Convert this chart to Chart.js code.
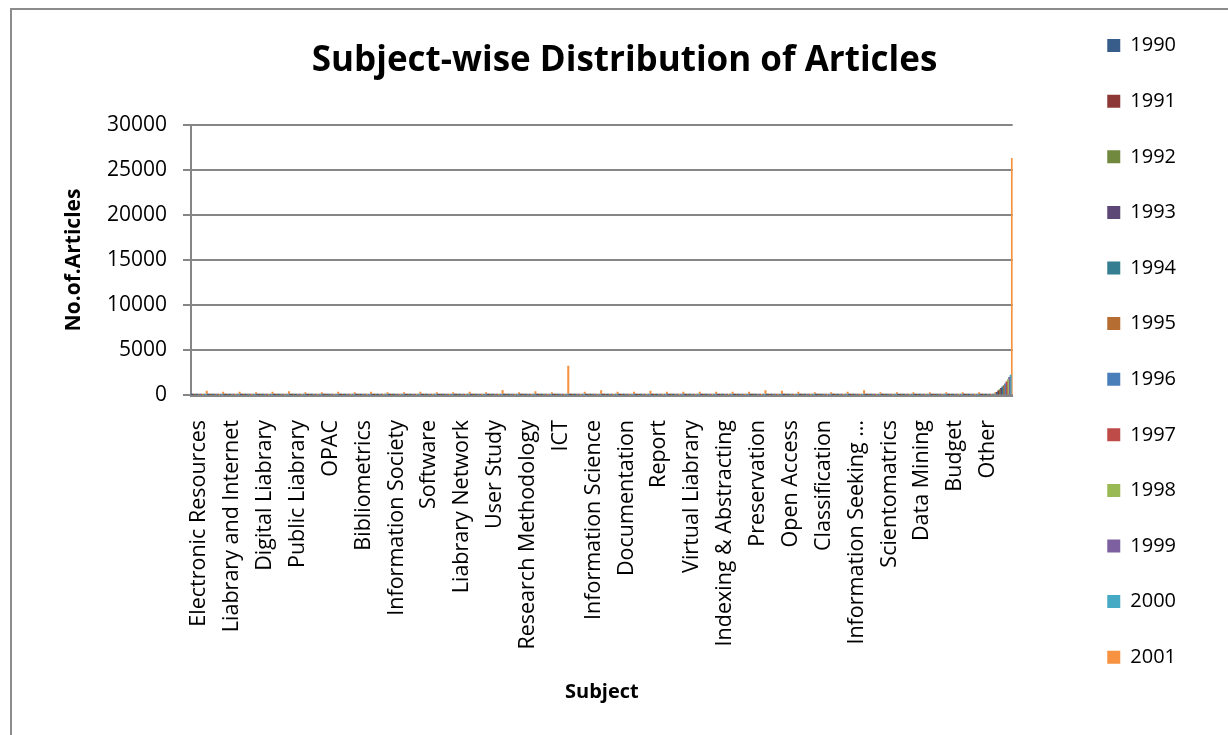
<!DOCTYPE html>
<html>
<head>
<meta charset="utf-8">
<script src="https://cdn.jsdelivr.net/npm/chart.js@4/dist/chart.umd.min.js"></script>
<style>
  html, body { margin: 0; padding: 0; background: #ffffff; }
  #wrap { position: relative; width: 1228px; height: 735px; overflow: hidden; }
  #frame { position: absolute; left: 10px; top: 8px; width: 1300px; height: 800px;
           border-left: 2px solid #8c8c8c; border-top: 2px solid #8c8c8c; pointer-events: none; }
  canvas { position: absolute; left: 0; top: 0; }
</style>
</head>
<body>
<div id="wrap">
  <canvas id="c" width="1228" height="735"></canvas>
  <div id="frame"></div>
</div>
<script>
// ---- data ----
const categories = [
  'Electronic Resources', '', 'Liabrary and Internet', '', 'Digital Liabrary', '',
  'Public Liabrary', '', 'OPAC', '', 'Bibliometrics', '', 'Information Society', '',
  'Software', '', 'Liabrary Network', '', 'User Study', '', 'Research Methodology', '',
  'ICT', '', 'Information Science', '', 'Documentation', '', 'Report', '',
  'Virtual Liabrary', '', 'Indexing & Abstracting', '', 'Preservation', '',
  'Open Access', '', 'Classification', '', 'Information Seeking …', '',
  'Scientomatrics', '', 'Data Mining', '', 'Budget', '', 'Other', ''
];
const years = ['1990','1991','1992','1993','1994','1995','1996','1997','1998','1999','2000','2001'];

const s1990 = [5,3,4,2,3,4,2,1,3,2,4,2,3,5,1,2,3,2,4,1,2,3,15,2,3,1,2,3,2,1,2,3,1,2,3,2,1,2,1,2,3,1,2,1,1,2,1,1,20,300];
const s1991 = [6,4,3,3,4,5,2,2,3,3,5,2,4,5,2,2,4,3,5,2,3,3,18,3,4,2,3,3,2,2,3,3,2,2,4,3,2,2,2,3,3,2,2,1,2,2,1,2,25,450];
const s1992 = [8,5,5,3,5,6,3,2,4,3,6,3,4,6,2,3,4,3,6,2,3,4,22,3,5,2,3,4,3,2,3,4,2,3,4,3,2,3,2,3,4,2,3,2,2,2,2,2,30,600];
const s1993 = [9,6,6,4,6,7,3,3,5,4,7,3,5,7,3,3,5,4,7,3,4,4,26,4,5,3,4,4,3,3,4,4,3,3,5,4,3,3,3,3,4,3,3,2,2,3,2,2,35,750];
const s1994 = [11,7,7,5,7,8,4,3,6,4,8,4,6,8,3,4,6,4,8,3,4,5,30,4,6,3,4,5,4,3,4,5,3,4,5,4,3,4,3,4,5,3,3,2,3,3,2,3,40,900];
const s1995 = [13,8,8,5,8,9,5,4,7,5,9,4,7,9,4,5,7,5,9,4,5,6,35,5,7,4,5,6,4,4,5,6,4,4,6,5,4,4,3,4,6,3,4,3,3,3,3,3,50,1050];
const s1996 = [15,10,9,6,9,11,5,5,8,6,10,5,8,11,4,5,8,6,11,4,6,7,40,6,8,4,6,7,5,4,6,7,4,5,7,6,4,5,4,5,7,4,4,3,3,4,3,3,60,1250];
const s1997 = [18,12,11,7,11,13,6,6,9,7,12,6,9,13,5,6,9,7,13,5,7,8,48,7,9,5,7,8,6,5,7,8,5,6,8,7,5,6,5,6,8,4,5,4,4,4,3,4,70,1450];
const s1998 = [22,14,13,9,13,15,8,7,11,8,15,7,11,15,6,7,11,8,15,6,8,9,55,8,11,6,8,9,7,6,8,9,6,7,9,8,6,7,5,7,9,5,6,4,5,5,4,4,85,1700];
const s1999 = [26,17,16,10,16,18,9,8,13,10,18,8,13,18,7,9,13,10,18,7,10,11,65,10,13,7,10,11,8,7,10,11,7,8,11,10,7,8,6,8,11,6,7,5,5,6,5,5,100,1950];
const s2000 = [30,20,19,12,19,22,11,10,15,12,21,10,15,21,8,10,15,12,21,8,12,13,75,12,15,8,12,13,10,8,12,13,8,10,13,12,8,10,7,10,13,7,8,6,6,7,5,6,120,2200];
const s2001 = [440,330,330,260,330,370,260,260,330,260,330,260,260,330,260,260,330,260,520,260,370,260,3200,
               330,480,330,330,440,330,330,330,330,330,330,480,440,330,280,280,330,480,280,280,280,280,280,280,280,300,26300];

const yTicks = { min: 0, max: 30000, step: 5000 };

const seriesValues = [s1990, s1991, s1992, s1993, s1994, s1995, s1996, s1997, s1998, s1999, s2000, s2001];
const seriesColors = ['#385D8A','#8C3836','#71893F','#5C4776','#357D91','#B66D31',
                      '#4A7EBB','#BE4B48','#98B954','#7D60A0','#46AAC5','#F69240'];

const FONT = '"Open Sans", Lato, sans-serif';
const GRID = '#868686';

const datasets = years.map((y, i) => ({
  label: y,
  data: seriesValues[i],
  backgroundColor: seriesColors[i],
  borderWidth: 0,
  categoryPercentage: 1.0,
  barPercentage: 1.0,
  yAxisID: 'y'
}));

new Chart(document.getElementById('c'), {
  type: 'bar',
  data: { labels: categories, datasets },
  options: {
    responsive: false,
    devicePixelRatio: 1,
    animation: false,
    layout: { padding: { left: 0, right: 42, top: 0, bottom: 0 } },
    plugins: {
      tooltip: { enabled: false },
      title: {
        display: true,
        fullSize: false,
        text: '     Subject-wise Distribution of Articles',
        color: '#000000',
        font: { family: FONT, size: 35, weight: 'bold' },
        padding: { top: 40, bottom: 43 }
      },
      legend: {
        display: true,
        position: 'right',
        align: 'start',
        labels: {
          boxWidth: 13,
          boxHeight: 13,
          padding: 35.6,
          color: '#000000',
          font: { family: FONT, size: 20 }
        }
      }
    },
    scales: {
      x: {
        type: 'category',
        offset: true,
        grid: { display: false, drawTicks: false },
        border: { display: true, color: GRID, width: 3 },
        ticks: {
          autoSkip: false,
          minRotation: 90,
          maxRotation: 90,
          padding: 25,
          color: '#000000',
          font: { family: FONT, size: 21.5 }
        },
        title: {
          display: true,
          text: 'Subject',
          color: '#000000',
          font: { family: FONT, size: 20, weight: 'bold' },
          padding: { top: 0, bottom: 31 }
        },
        afterFit: (s) => { s.height = 340; }
      },
      y: {
        type: 'linear',
        position: 'left',
        min: yTicks.min,
        max: yTicks.max,
        grid: { color: GRID, lineWidth: 2, drawTicks: true, tickLength: 8, tickColor: GRID },
        border: { display: true, color: GRID, width: 2 },
        ticks: {
          stepSize: yTicks.step,
          padding: 16,
          color: '#000000',
          font: { family: FONT, size: 21 },
          callback: (v) => String(v)
        },
        title: {
          display: true,
          text: 'No.of.Articles',
          color: '#000000',
          font: { family: FONT, size: 21, weight: 'bold' },
          padding: { top: 61, bottom: 0 }
        },
        afterFit: (s) => { s.width = 191; }
      },
      gap: {
        type: 'linear',
        position: 'right',
        display: true,
        grid: { display: false, drawTicks: false },
        border: { display: false },
        ticks: { display: false },
        afterFit: (s) => { s.width = 59; }
      }
    }
  }
});
</script>
</body>
</html>
